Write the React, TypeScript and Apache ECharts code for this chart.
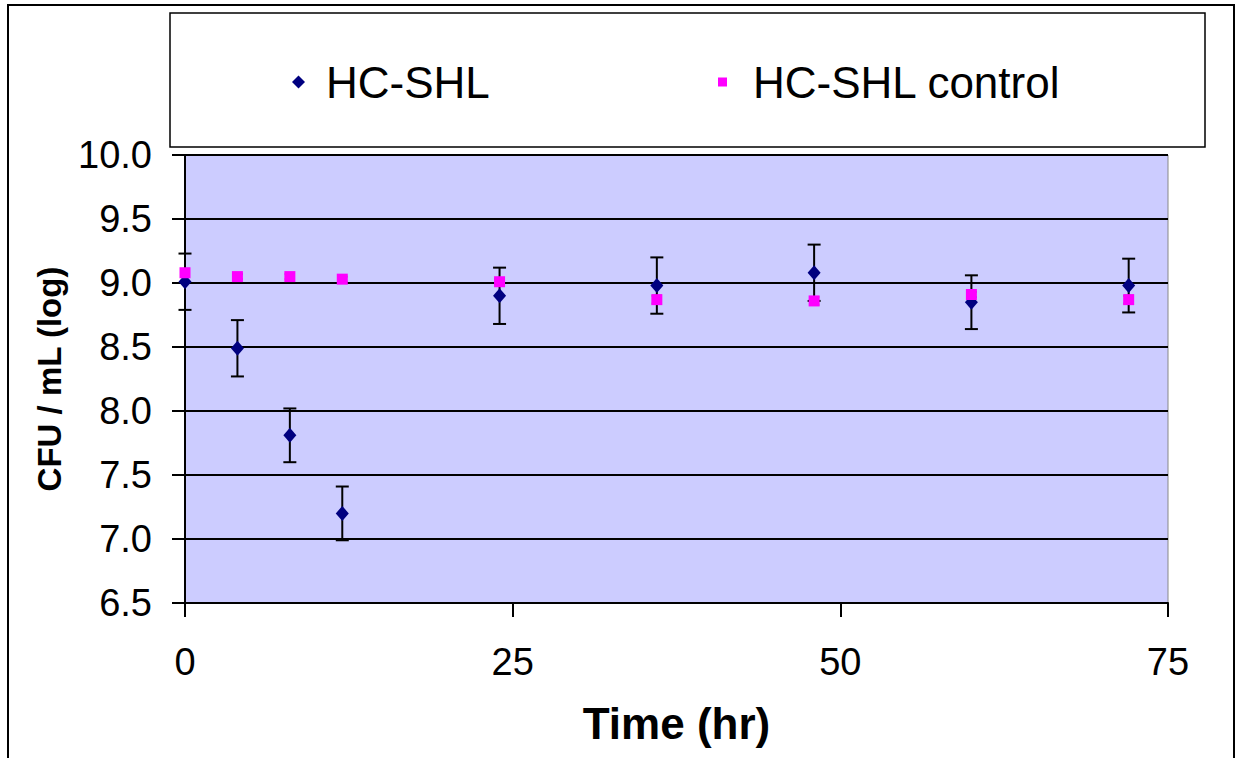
import React, { useEffect, useRef } from "react";
import * as echarts from "echarts";

// Sampling times (hr)
const times = [0, 4, 8, 12, 24, 36, 48, 60, 72];
// HC-SHL treated: mean log CFU/mL and standard deviation
const hcShl = [9.01, 8.49, 7.81, 7.2, 8.9, 8.98, 9.08, 8.85, 8.98];
const hcShlErr = [0.22, 0.22, 0.21, 0.21, 0.22, 0.22, 0.22, 0.21, 0.21];
// Untreated control
const control = [9.08, 9.05, 9.05, 9.03, 9.01, 8.87, 8.86, 8.91, 8.87];
const controlErr = [0.03, 0.02, 0.02, 0.02, 0.02, 0.03, 0.03, 0.02, 0.03];

const xTicks = [0, 25, 50, 75];
const FONT = "'Liberation Sans', Arial, sans-serif";

function errorBarSeries(name: string, means: number[], errs: number[], capHalf: number) {
  const data = times.map((t, i) => [t, means[i] - errs[i], means[i] + errs[i]]);
  return {
    type: "custom",
    name,
    z: 1,
    silent: true,
    data,
    renderItem: (_params: any, api: any) => {
      const x = api.value(0);
      const lo = api.coord([x, api.value(1)]);
      const hi = api.coord([x, api.value(2)]);
      const style = { stroke: "#000", lineWidth: 2 };
      return {
        type: "group",
        children: [
          { type: "line", shape: { x1: lo[0], y1: lo[1], x2: hi[0], y2: hi[1] }, style },
          { type: "line", shape: { x1: lo[0] - capHalf, y1: lo[1], x2: lo[0] + capHalf, y2: lo[1] }, style },
          { type: "line", shape: { x1: hi[0] - capHalf, y1: hi[1], x2: hi[0] + capHalf, y2: hi[1] }, style },
        ],
      };
    },
  };
}

export default function App() {
  const ref = useRef<HTMLDivElement>(null);

  useEffect(() => {
    if (!ref.current) return;
    const chart = echarts.init(ref.current, undefined, { renderer: "svg" });
    chart.setOption({
      animation: false,
      backgroundColor: "#ffffff",
      textStyle: { fontFamily: FONT },
      graphic: [
        {
          type: "rect",
          shape: { x: 8, y: 5, width: 1226, height: 800 },
          style: { fill: "none", stroke: "#000", lineWidth: 2 },
          z: 0,
        },
        {
          type: "rect",
          shape: { x: 170, y: 13, width: 1035, height: 134 },
          style: { fill: "#fff", stroke: "#000", lineWidth: 1.5 },
          z: 0,
        },
      ],
      legend: [
        {
          data: [{ name: "HC-SHL", icon: "diamond" }],
          left: 292,
          top: 57,
          padding: 0,
          itemWidth: 13,
          itemHeight: 13,
          itemStyle: { opacity: 1 },
          textStyle: { fontSize: 44, color: "#000", fontFamily: FONT, lineHeight: 50, padding: [0, 0, 0, 16] },
        },
        {
          data: [{ name: "HC-SHL control", icon: "rect" }],
          left: 718,
          top: 57,
          padding: 0,
          itemWidth: 9,
          itemHeight: 9,
          itemStyle: { opacity: 1 },
          textStyle: { fontSize: 44, color: "#000", fontFamily: FONT, lineHeight: 50, padding: [0, 0, 0, 21] },
        },
      ],
      grid: {
        left: 185,
        top: 155,
        width: 983,
        height: 448,
        show: true,
        backgroundColor: "#CCCCFF",
        borderColor: "#888888",
        borderWidth: 1,
      },
      xAxis: {
        type: "value",
        min: 0,
        max: 75,
        interval: 25,
        name: "Time (hr)",
        nameLocation: "middle",
        nameGap: 98,
        nameTextStyle: { fontSize: 44, fontWeight: "bold", color: "#000", fontFamily: FONT },
        axisLine: { show: true, lineStyle: { color: "#000", width: 2 } },
        axisTick: { show: true, length: 14, lineStyle: { color: "#000", width: 2 } },
        axisLabel: {
          fontSize: 38,
          color: "#000",
          fontFamily: FONT,
          margin: 40,
          formatter: (v: number) => (xTicks.includes(v) ? String(v) : ""),
        },
        splitLine: { show: false },
      },
      yAxis: {
        type: "value",
        min: 6.5,
        max: 10,
        interval: 0.5,
        name: "CFU / mL (log)",
        nameLocation: "middle",
        nameGap: 119,
        nameRotate: 90,
        nameTextStyle: { fontSize: 33, fontWeight: "bold", color: "#000", fontFamily: FONT },
        axisLine: { show: true, lineStyle: { color: "#000", width: 2 } },
        axisTick: { show: true, length: 13, lineStyle: { color: "#000", width: 2 } },
        axisLabel: {
          fontSize: 38,
          color: "#000",
          fontFamily: FONT,
          margin: 33,
          formatter: (v: number) => v.toFixed(1),
        },
        splitLine: { show: true, lineStyle: { color: "#000", width: 2 } },
      },
      series: [
        errorBarSeries("HC-SHL error", hcShl, hcShlErr, 6.5),
        errorBarSeries("HC-SHL control error", control, controlErr, 5),
        {
          type: "scatter",
          name: "HC-SHL",
          symbol: "diamond",
          symbolSize: [13, 15],
          z: 3,
          itemStyle: { color: "#000080", opacity: 1 },
          data: times.map((t, i) => [t, hcShl[i]]),
        },
        {
          type: "scatter",
          name: "HC-SHL control",
          symbol: "rect",
          symbolSize: 11,
          z: 4,
          itemStyle: { color: "#FF00FF", opacity: 1 },
          data: times.map((t, i) => [t, control[i]]),
        },
      ],
    });
    return () => chart.dispose();
  }, []);

  return (
    <div
      ref={ref}
      style={{ position: "fixed", left: 0, top: 0, width: 1239, height: 758, background: "#fff" }}
    />
  );
}
